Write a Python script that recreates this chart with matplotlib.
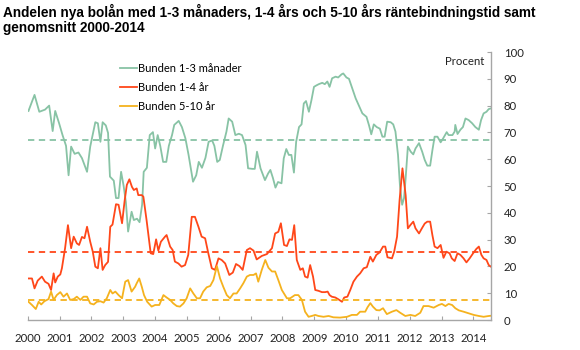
import matplotlib
matplotlib.use("Agg")
import matplotlib.pyplot as plt

# Andel nya bolån per räntebindningstid (procent)
green_t = [2000.02, 2000.21, 2000.36, 2000.54, 2000.67, 2000.78, 2000.86, 2000.98,
           2001.09, 2001.2, 2001.28, 2001.36, 2001.47, 2001.59, 2001.7, 2001.86, 2001.96,
           2002.12, 2002.2, 2002.28, 2002.35, 2002.45, 2002.52, 2002.58, 2002.7, 2002.77,
           2002.85, 2002.93, 2003.01, 2003.08, 2003.15, 2003.26, 2003.33, 2003.43, 2003.51,
           2003.59, 2003.64, 2003.74, 2003.83, 2003.93, 2004.0, 2004.08, 2004.16, 2004.25,
           2004.35, 2004.43, 2004.53, 2004.6, 2004.74, 2004.84, 2004.95, 2005.05, 2005.19,
           2005.29, 2005.37, 2005.47, 2005.58, 2005.68, 2005.79, 2005.86, 2005.95, 2006.03,
           2006.13, 2006.24, 2006.31, 2006.42, 2006.52, 2006.63, 2006.73, 2006.84, 2006.92,
           2007.05, 2007.13, 2007.2, 2007.31, 2007.45, 2007.55, 2007.62, 2007.7, 2007.78,
           2007.86, 2007.97, 2008.04, 2008.12, 2008.2, 2008.28, 2008.36, 2008.43, 2008.52,
           2008.6, 2008.67, 2008.74, 2008.83, 2008.91, 2008.99, 2009.06, 2009.14, 2009.25,
           2009.33, 2009.41, 2009.48, 2009.56, 2009.67, 2009.75, 2009.86, 2009.91, 2010.01,
           2010.09, 2010.19, 2010.3, 2010.4, 2010.51, 2010.64, 2010.72, 2010.79, 2010.87,
           2010.96, 2011.06, 2011.14, 2011.21, 2011.29, 2011.4, 2011.48, 2011.55, 2011.63,
           2011.69, 2011.76, 2011.82, 2011.87, 2011.94, 2012.03, 2012.11, 2012.18, 2012.29,
           2012.39, 2012.47, 2012.55, 2012.64, 2012.71, 2012.78, 2012.87, 2012.97, 2013.05,
           2013.16, 2013.22, 2013.34, 2013.41, 2013.43, 2013.5, 2013.59, 2013.67, 2013.75,
           2013.85, 2013.96, 2014.06, 2014.17, 2014.24, 2014.32, 2014.41, 2014.48, 2014.56]
green_v = [78, 84, 77.7, 78.5, 80, 70.5, 78, 73.5,
           69, 65, 54, 64.7, 62, 62.5, 60.4, 55.3, 64.7,
           73.8, 73.4, 66.5, 73.8, 72.6, 69.8, 53.5, 52, 45.5,
           45.5, 55.3, 50, 44, 33, 40.4, 37.3, 37.8, 36.5,
           43, 55.3, 56.8, 69, 70.1, 64, 69, 65, 59,
           59, 65, 69, 72.8, 74.3, 72, 67.8, 61.6, 51.6,
           54, 59, 56.8, 60.5, 66.5, 67, 65, 59, 59.7,
           65, 70.3, 75.2, 74, 69, 69.5, 69, 65.3, 56.6,
           56.4, 56.4, 62.8, 56.6, 52.2, 54.7, 56, 53, 49.4,
           51.5, 51, 60.3, 63.8, 61.6, 61.6, 55, 66.5, 72,
           73, 80.8, 81.7, 77.7, 82, 87, 87.5, 88, 88.5,
           88, 89, 87, 90.2, 90.8, 90.5, 91.7, 92, 90.5,
           90, 86.5, 82.7, 80, 77.1, 75.8, 72.6, 69.3, 73,
           72, 71.4, 68.4, 68.4, 74, 73.8, 73, 70.3, 61.6,
           50.4, 43, 45.5, 52.9, 64.7, 62.8, 61.8, 64, 66,
           62.8, 59.7, 57.6, 57.6, 63.3, 68.4, 68.4, 66.3, 67.8,
           70.1, 69, 69, 70.3, 72.8, 69.4, 71, 72, 75.2,
           74.6, 73.4, 72, 71, 74.6, 77.1, 77.7, 78.7, 79]

red_t = [2000.02, 2000.13, 2000.21, 2000.31, 2000.44, 2000.54, 2000.65, 2000.73, 2000.81,
         2000.86, 2000.94, 2001.02, 2001.07, 2001.17, 2001.26, 2001.36, 2001.44, 2001.54,
         2001.61, 2001.7, 2001.78, 2001.86, 2001.96, 2002.04, 2002.12, 2002.2, 2002.28,
         2002.35, 2002.43, 2002.52, 2002.59, 2002.66, 2002.77, 2002.85, 2002.96, 2003.04,
         2003.11, 2003.19, 2003.27, 2003.33, 2003.42, 2003.47, 2003.58, 2003.63, 2003.73,
         2003.86, 2003.94, 2004.03, 2004.1, 2004.18, 2004.31, 2004.36, 2004.47, 2004.55,
         2004.62, 2004.73, 2004.83, 2004.94, 2005.04, 2005.15, 2005.25, 2005.36, 2005.46,
         2005.57, 2005.67, 2005.78, 2005.88, 2005.99, 2006.09, 2006.2, 2006.33, 2006.44,
         2006.54, 2006.65, 2006.75, 2006.88, 2006.98, 2007.09, 2007.19, 2007.35, 2007.51,
         2007.67, 2007.77, 2007.87, 2007.95, 2008.05, 2008.14, 2008.22, 2008.3, 2008.37,
         2008.45, 2008.56, 2008.64, 2008.71, 2008.79, 2008.87, 2008.96, 2009.03, 2009.13,
         2009.24, 2009.34, 2009.42, 2009.48, 2009.55, 2009.66, 2009.76, 2009.87, 2009.94,
         2010.04, 2010.13, 2010.23, 2010.34, 2010.44, 2010.55, 2010.65, 2010.76, 2010.84,
         2010.95, 2011.05, 2011.16, 2011.23, 2011.3, 2011.44, 2011.51, 2011.6, 2011.68,
         2011.77, 2011.87, 2011.94, 2012.03, 2012.11, 2012.18, 2012.29, 2012.38, 2012.47,
         2012.55, 2012.64, 2012.71, 2012.78, 2012.87, 2012.97, 2013.06, 2013.15, 2013.25,
         2013.32, 2013.41, 2013.5, 2013.59, 2013.69, 2013.78, 2013.88, 2013.99, 2014.09,
         2014.17, 2014.25, 2014.32, 2014.41, 2014.48, 2014.55]
red_v = [15.5, 15.5, 11.8, 14.7, 16.2, 14.3, 13.5, 11.2, 17.4,
         14, 16.2, 17, 19.3, 26.8, 35.4, 26.8, 31.1, 28.6,
         28, 31, 30.5, 34.8, 29.2, 25.5, 19.9, 19.3, 26.8,
         18.7, 20.5, 21.7, 34.8, 35.6, 43.2, 43, 36.1, 44.4,
         50.4, 52.5, 49.7, 48.5, 49.1, 46.6, 46.6, 46, 37.3,
         24.9, 24.6, 30.1, 25.9, 29.2, 31.1, 31.7, 27.4, 26.1,
         21.8, 21.1, 19.9, 20.5, 24.3, 38.5, 38.5, 34.8, 31.1,
         30.5, 24.9, 19.3, 18.7, 23, 22.4, 21.1, 16.8, 17.7,
         20.9, 20.1, 18.7, 26.1, 26.8, 25.9, 22.6, 23.9, 24.6,
         26.8, 32.3, 32.9, 36.1, 28, 27.6, 30.1, 29.9, 35.4,
         22.4, 18.7, 19.3, 16.2, 15.8, 20.5, 16.2, 11.2, 10.9,
         10.4, 10.4, 10.6, 9.3, 8.7, 8.4, 7.7, 6.8, 8.4,
         8.7, 11.2, 14.3, 16.2, 17.4, 19.3, 19.7, 23.6, 21.8,
         24.3, 25.2, 27.4, 27.4, 23.4, 23, 25.5, 31.1, 44.8,
         56.6, 46.6, 34.2, 35.6, 36.7, 34.2, 32.3, 34.2, 36,
         36.7, 36.7, 31.7, 27.4, 26.8, 28, 23.2, 25.5, 24.9,
         23, 22, 24.9, 24.3, 23, 21.5, 23, 24.9, 26.5,
         27.4, 24.3, 23, 22.4, 20.5, 19.9]

yellow_t = [2000.02, 2000.13, 2000.25, 2000.34, 2000.42, 2000.52, 2000.65, 2000.73, 2000.81,
            2000.91, 2001.02, 2001.12, 2001.23, 2001.33, 2001.44, 2001.54, 2001.65, 2001.75,
            2001.86, 2001.96, 2002.07, 2002.17, 2002.28, 2002.38, 2002.48, 2002.59, 2002.66,
            2002.75, 2002.85, 2002.96, 2003.06, 2003.15, 2003.26, 2003.37, 2003.42, 2003.5,
            2003.58, 2003.65, 2003.75, 2003.89, 2004.0, 2004.13, 2004.26, 2004.36, 2004.47,
            2004.57, 2004.68, 2004.78, 2004.89, 2004.99, 2005.1, 2005.2, 2005.31, 2005.41,
            2005.51, 2005.62, 2005.73, 2005.83, 2005.94, 2006.04, 2006.14, 2006.25, 2006.35,
            2006.46, 2006.56, 2006.67, 2006.77, 2006.88, 2006.98, 2007.09, 2007.17, 2007.24,
            2007.35, 2007.46, 2007.56, 2007.67, 2007.77, 2007.87, 2007.98, 2008.14, 2008.24,
            2008.39, 2008.5, 2008.61, 2008.71, 2008.82, 2008.92, 2009.03, 2009.13, 2009.29,
            2009.45, 2009.6, 2009.81, 2010.03, 2010.18, 2010.34, 2010.44, 2010.6, 2010.67,
            2010.76, 2010.84, 2010.95, 2011.05, 2011.16, 2011.28, 2011.44, 2011.58, 2011.7,
            2011.86, 2012.02, 2012.17, 2012.33, 2012.43, 2012.59, 2012.75, 2012.91, 2013.01,
            2013.12, 2013.22, 2013.33, 2013.43, 2013.54, 2013.69, 2013.85, 2014.01, 2014.17,
            2014.32, 2014.48, 2014.56]
yellow_v = [6.8, 5.6, 4.1, 6.8, 5.8, 7, 7.8, 10.6, 7.5,
            9.3, 10.4, 8.7, 9.9, 7.5, 7.8, 8.7, 7.5, 8.7,
            8.7, 6.2, 5.8, 6.8, 7, 6.5, 8.1, 11.2, 9.9,
            10.6, 9.3, 8.1, 14.3, 14.9, 10.6, 12.4, 13.7, 15.5,
            12.4, 9.3, 6.8, 5, 5.6, 5.6, 9.3, 8.4, 7.5,
            6.2, 5.2, 5, 6.2, 8.1, 11.8, 9.9, 8.1, 8.1,
            10.6, 12.2, 12.7, 14.9, 20.1, 15.5, 12.4, 9.3, 8.1,
            9.9, 9.9, 11.8, 13.7, 16.2, 16.8, 16.8, 17.4, 14.3,
            18.7, 22.4, 19.5, 18.1, 18.1, 14.9, 11.2, 8.1, 8.1,
            9.3, 9.3, 7.5, 3.1, 1.2, 1.5, 1.9, 1.5, 1.2,
            1.5, 1.0, 0.9, 1.2, 1.9, 1.9, 3.1, 3.1, 4.7,
            6.3, 5, 3.7, 3.6, 4.4, 2.2, 3.1, 3.7, 2.7,
            1.5, 1.9, 1.5, 2.7, 5.2, 5.2, 4.6, 5.6, 6.0,
            5.2, 6, 5.6, 4.4, 3.6, 3.1, 2.5, 1.9, 1.5,
            1.2, 1.5, 1.6]

# genomsnitt 2000-2014
avg_green = 67.1
avg_red = 25.5
avg_yellow = 7.3

labels = ['Bunden 1-3 månader', 'Bunden 1-4 år', 'Bunden 5-10 år']
years = list(range(2000, 2015))

GREEN = '#88c3a5'
RED = '#ff4719'
YELLOW = '#f5b21e'
GRAY = '#a6a6a6'


def main():
    plt.rcParams['font.family'] = ['Lato', 'DejaVu Sans']

    fig = plt.figure(figsize=(5.8, 3.5), dpi=100)
    ax = fig.add_axes([0.048, 0.0857, 0.799, 0.7657])

    ax.plot(green_t, green_v, color=GREEN, lw=1.3, label=labels[0])
    ax.plot(red_t, red_v, color=RED, lw=1.3, label=labels[1])
    ax.plot(yellow_t, yellow_v, color=YELLOW, lw=1.3, label=labels[2])

    for val, col in [(avg_green, GREEN), (avg_red, RED), (avg_yellow, YELLOW)]:
        ax.axhline(val, color=col, lw=1.3, ls=(0, (3.5, 2.5)))

    ax.set_xlim(2000, 2014.56)
    ax.set_ylim(0, 100)
    ax.set_xticks(years)
    ax.set_xticklabels([str(y) for y in years])
    ax.set_yticks(range(0, 101, 10))

    ax.yaxis.tick_right()
    for side in ['left', 'top']:
        ax.spines[side].set_visible(False)
    for side in ['right', 'bottom']:
        ax.spines[side].set_color(GRAY)
        ax.spines[side].set_linewidth(1.0)
    ax.tick_params(axis='both', direction='in', length=3, color=GRAY,
                   labelsize=8.2, labelcolor='#222222')
    ax.tick_params(axis='y', pad=9)
    ax.tick_params(axis='x', pad=9)

    ax.text(0.985, 0.965, 'Procent', transform=ax.transAxes, ha='right',
            va='center', fontsize=8.2, color='#222222')

    ax.legend(loc='upper left', bbox_to_anchor=(0.178, 0.995), frameon=False,
              fontsize=8, handlelength=1.5, handletextpad=0.05,
              labelspacing=0.72)

    fig.text(0.005, 0.988, 'Andelen nya bolån med 1-3 månaders, 1-4 års och 5-10 års '
             'räntebindningstid samt\ngenomsnitt 2000-2014',
             ha='left', va='top', fontsize=9.85, fontweight='bold',
             family=['Liberation Sans', 'DejaVu Sans'], linespacing=1.1)

    fig.savefig('out.png', dpi=100)


if __name__ == '__main__':
    main()
